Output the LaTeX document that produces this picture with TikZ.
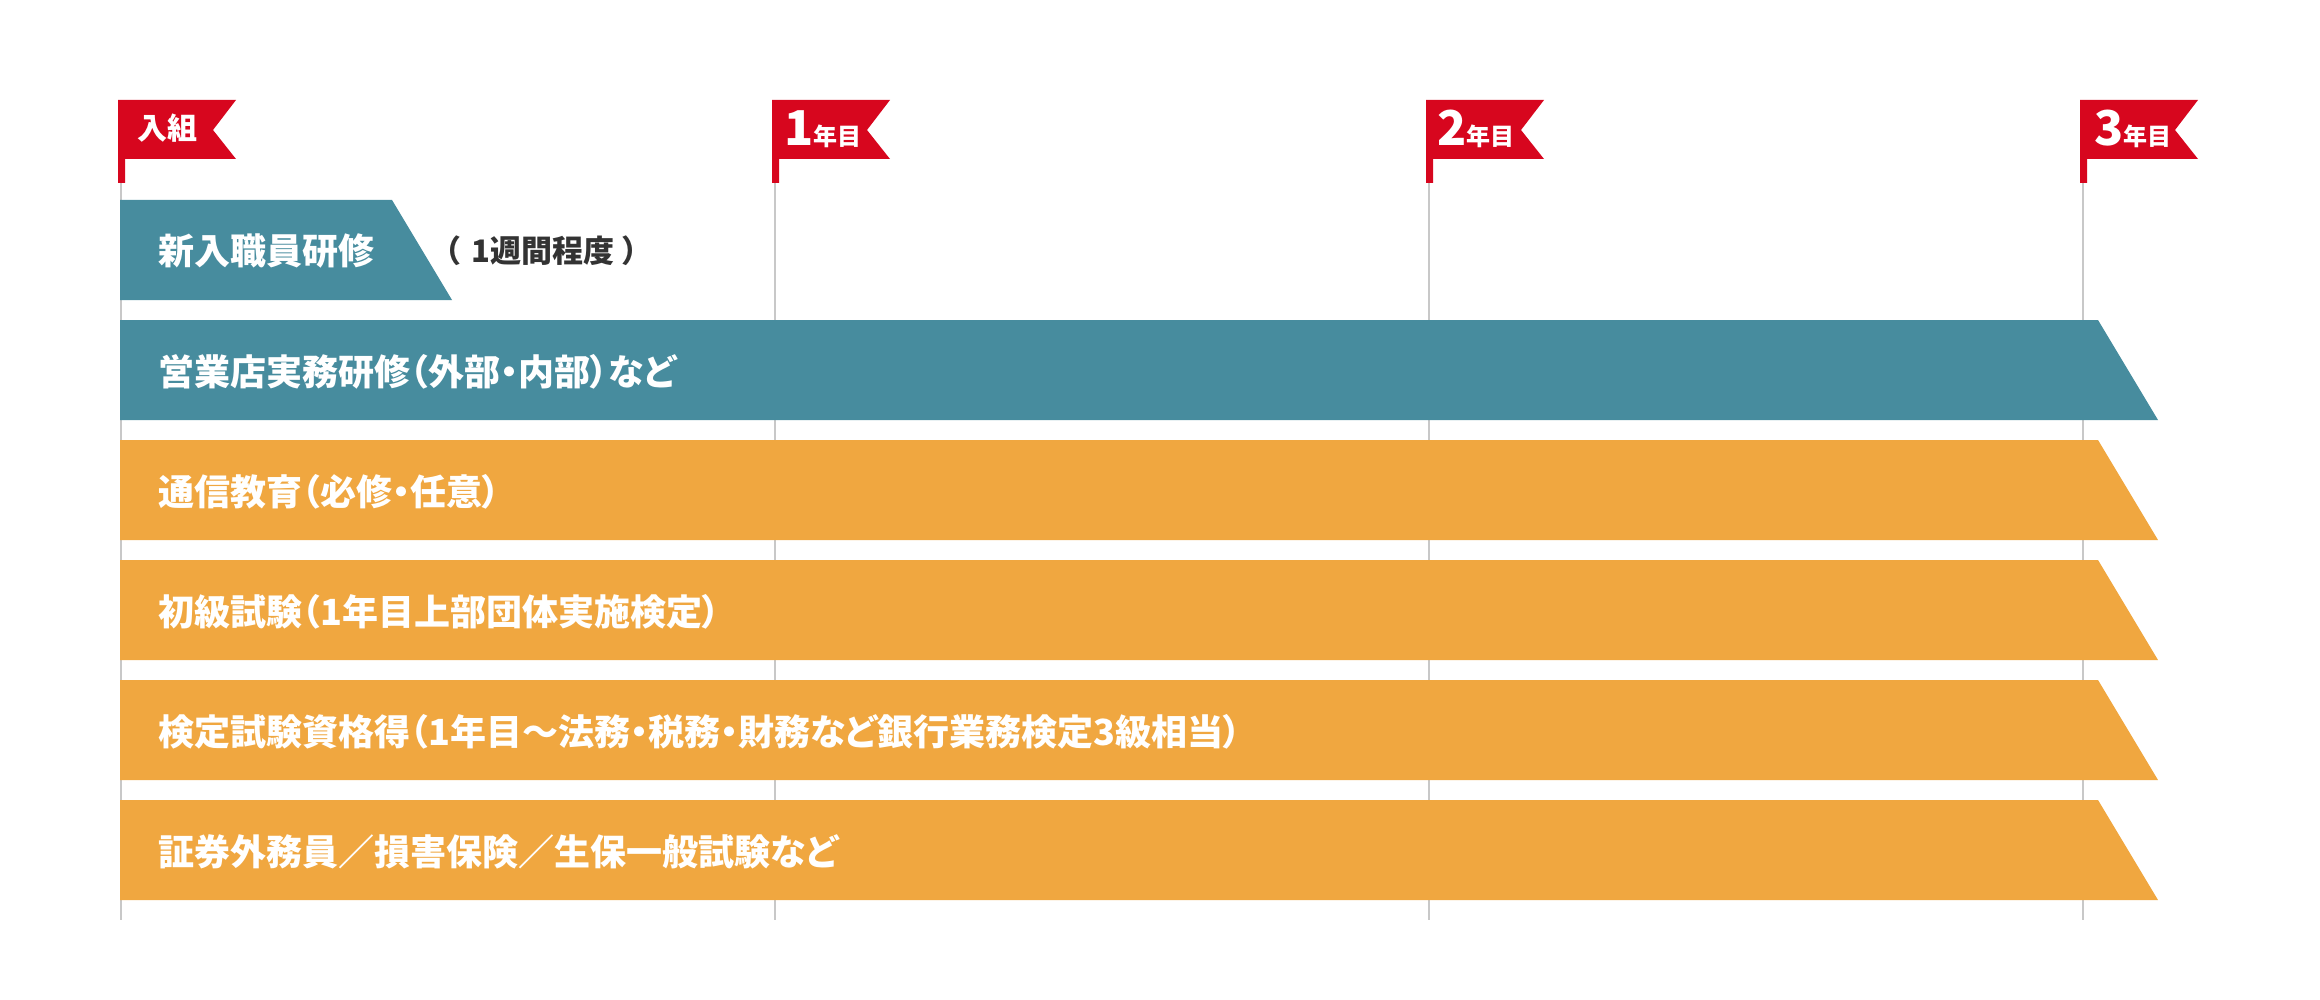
\documentclass[tikz,border=0pt]{standalone}
\usepackage{fontspec}
\newfontfamily\jpfont{Noto Sans CJK JP}[RawFeature=+palt]
\newfontfamily\jpwide{Noto Sans CJK JP}
\definecolor{flagred}{RGB}{215,6,30}
\definecolor{barteal}{RGB}{71,140,158}
\definecolor{barorange}{RGB}{240,167,64}
\definecolor{gridgrey}{RGB}{200,200,200}
\definecolor{notegrey}{RGB}{51,51,51}

\begin{document}
\begin{tikzpicture}[x=1pt, y=-1pt,
    gridline/.style={line width=2pt, color=gridgrey},
    flagtext/.style={anchor=base west, inner sep=0, text=white, font=\jpfont\bfseries},
    bartext/.style={anchor=base west, inner sep=0, text=white, font=\jpfont\bfseries\fontsize{36}{40}\selectfont}]
    \useasboundingbox (0,0) rectangle (2320,1000);
    % year lines
    \foreach \x in {121,775,1429,2083}
        \draw [gridline] (\x,183) -- (\x,920);
    % flags
    \foreach \x in {118,772,1426,2080}
        \fill [flagred] (\x,100) -- ++(118,0) -- ++(-23,30) -- ++(23,29) -- (\x+7,159) -- (\x+7,183) -- (\x,183) -- cycle;
    \node [flagtext, font=\jpfont\bfseries\fontsize{30}{34}\selectfont] (join) at (137,140) {入組};
    \node [flagtext] (year1) at (784,146) {\fontsize{48}{50}\selectfont 1\fontsize{24}{26}\selectfont 年目};
    \node [flagtext] (year2) at (1437,146) {\fontsize{48}{50}\selectfont 2\fontsize{24}{26}\selectfont 年目};
    \node [flagtext] (year3) at (2094,146) {\fontsize{48}{50}\selectfont 3\fontsize{24}{26}\selectfont 年目};
    % bars
    \fill [barteal] (120,200) -- (392,200) -- (452,300) -- (120,300) -- cycle;
    \node [bartext] (newhire) at (158,265) {新入職員研修};
    \node [anchor=base west, inner sep=0, text=notegrey, font=\jpfont\bfseries\fontsize{31}{34}\selectfont] (week) at (444,263) {（\hspace{12pt}1週間程度\hspace{8pt}）};
    \fill [barteal] (120,320) -- (2098,320) -- (2158,420) -- (120,420) -- cycle;
    \node [bartext] (branch) at (158,385) {営業店実務研修（外部・内部）など};
    \foreach \y in {440,560,680,800}
        \fill [barorange] (120,\y) -- (2098,\y) -- (2158,\y+100) -- (120,\y+100) -- cycle;
    \node [bartext] (corresp) at (158,505) {通信教育（必修・任意）};
    \node [bartext] (basic) at (158,625) {初級試験（1年目上部団体実施検定）};
    \node [bartext] (qualify) at (158,745) {検定試験資格得（1年目〜法務・税務・財務など銀行業務検定3級相当）};
    \node [bartext] (securities) at (158,865) {証券外務員／損害保険／生保一般試験など};
\end{tikzpicture}
\end{document}
